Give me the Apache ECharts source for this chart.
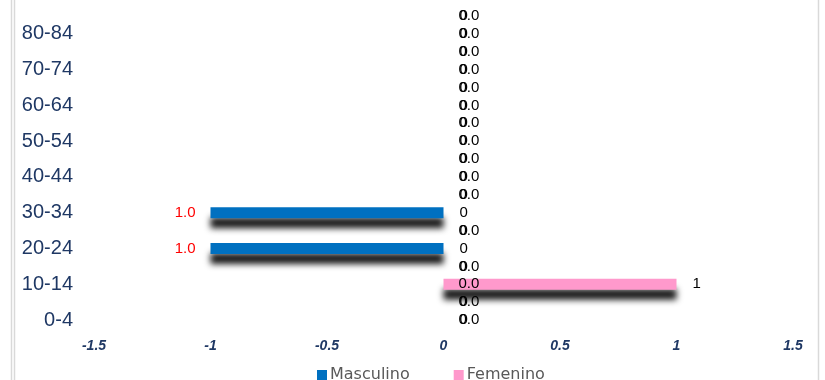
<!DOCTYPE html>
<html>
<head>
<meta charset="utf-8">
<script src="https://cdn.jsdelivr.net/npm/echarts@6/dist/echarts.min.js"></script>
<style>
  html, body { margin: 0; padding: 0; background: #fff; }
  #chart { width: 825px; height: 380px; }
</style>
</head>
<body>
<div id="chart"></div>
<script>
// grupos de edad, de abajo hacia arriba
var ageGroups = ['0-4', '5-9', '10-14', '15-19', '20-24', '25-29', '30-34', '35-39', '40-44',
  '45-49', '50-54', '55-59', '60-64', '65-69', '70-74', '75-79', '80-84', '85+'];
var masculino = [0, 0, 0, 0, 1, 0, 1, 0, 0, 0, 0, 0, 0, 0, 0, 0, 0, 0];
var femenino = [0, 0, 1, 0, 0, 0, 0, 0, 0, 0, 0, 0, 0, 0, 0, 0, 0, 0];
var xTicks = [-1.5, -1, -0.5, 0, 0.5, 1, 1.5];

var navy = '#1F3864';
var chart = echarts.init(document.getElementById('chart'));

// hombres a la izquierda (negativo), etiqueta en rojo como el formato 0.0;[Red]0.0
var mascData = masculino.map(function (v) {
  return {
    value: -v,
    label: {
      position: v ? 'left' : 'right',
      color: v ? '#FF0000' : '#000000'
    }
  };
});

var option = {
  backgroundColor: '#ffffff',
  animation: false,
  grid: { left: 94, right: 32, top: 7, bottom: 51, containLabel: false, outerBoundsMode: 'none' },
  legend: {
    top: 362,
    left: 312,
    itemWidth: 10,
    itemHeight: 10,
    itemGap: 44,
    icon: 'rect',
    textStyle: { color: '#595959', fontSize: 16, fontFamily: 'DejaVu Sans', padding: [0, 0, 0, -2] },
    data: ['Masculino', 'Femenino']
  },
  xAxis: {
    type: 'value',
    min: xTicks[0],
    max: xTicks[xTicks.length - 1],
    interval: 0.5,
    axisLine: { show: false },
    axisTick: { show: false },
    splitLine: { show: false },
    axisLabel: {
      margin: 10,
      color: navy,
      fontSize: 14,
      fontWeight: 'bold',
      fontStyle: 'italic',
      fontFamily: 'Liberation Sans',
      formatter: function (v) { return String(v); }
    }
  },
  yAxis: {
    type: 'category',
    data: ageGroups,
    axisLine: { show: false },
    axisTick: { show: false },
    axisLabel: {
      interval: 1,
      margin: 21,
      color: navy,
      fontSize: 20,
      fontFamily: 'Liberation Sans'
    }
  },
  series: [
    {
      name: 'Masculino',
      type: 'bar',
      data: mascData,
      barWidth: 11,
      barGap: '-100%',
      itemStyle: {
        color: '#0070C0',
        shadowColor: 'rgba(0,0,0,0.9)',
        shadowBlur: 6,
        shadowOffsetY: 10
      },
      label: {
        show: true,
        distance: 15,
        fontSize: 15,
        fontFamily: 'Liberation Sans',
        formatter: function (p) { return Math.abs(p.value).toFixed(1); }
      }
    },
    {
      name: 'Femenino',
      type: 'bar',
      data: femenino,
      barWidth: 11,
      itemStyle: {
        color: '#FF99CC',
        shadowColor: 'rgba(0,0,0,0.9)',
        shadowBlur: 6,
        shadowOffsetY: 10
      },
      label: {
        show: true,
        position: 'right',
        distance: 16,
        color: '#000000',
        fontSize: 15,
        fontFamily: 'Liberation Sans'
      }
    }
  ],
  graphic: [
    { type: 'line', shape: { x1: 11.5, y1: 0, x2: 11.5, y2: 380 }, style: { stroke: '#D9D9D9', lineWidth: 1.5 } },
    { type: 'line', shape: { x1: 14.5, y1: 0, x2: 14.5, y2: 380 }, style: { stroke: '#D9D9D9', lineWidth: 1.5 } },
    { type: 'line', shape: { x1: 818.5, y1: 0, x2: 818.5, y2: 380 }, style: { stroke: '#D9D9D9', lineWidth: 1.5 } }
  ]
};
chart.setOption(option);
</script>
</body>
</html>
